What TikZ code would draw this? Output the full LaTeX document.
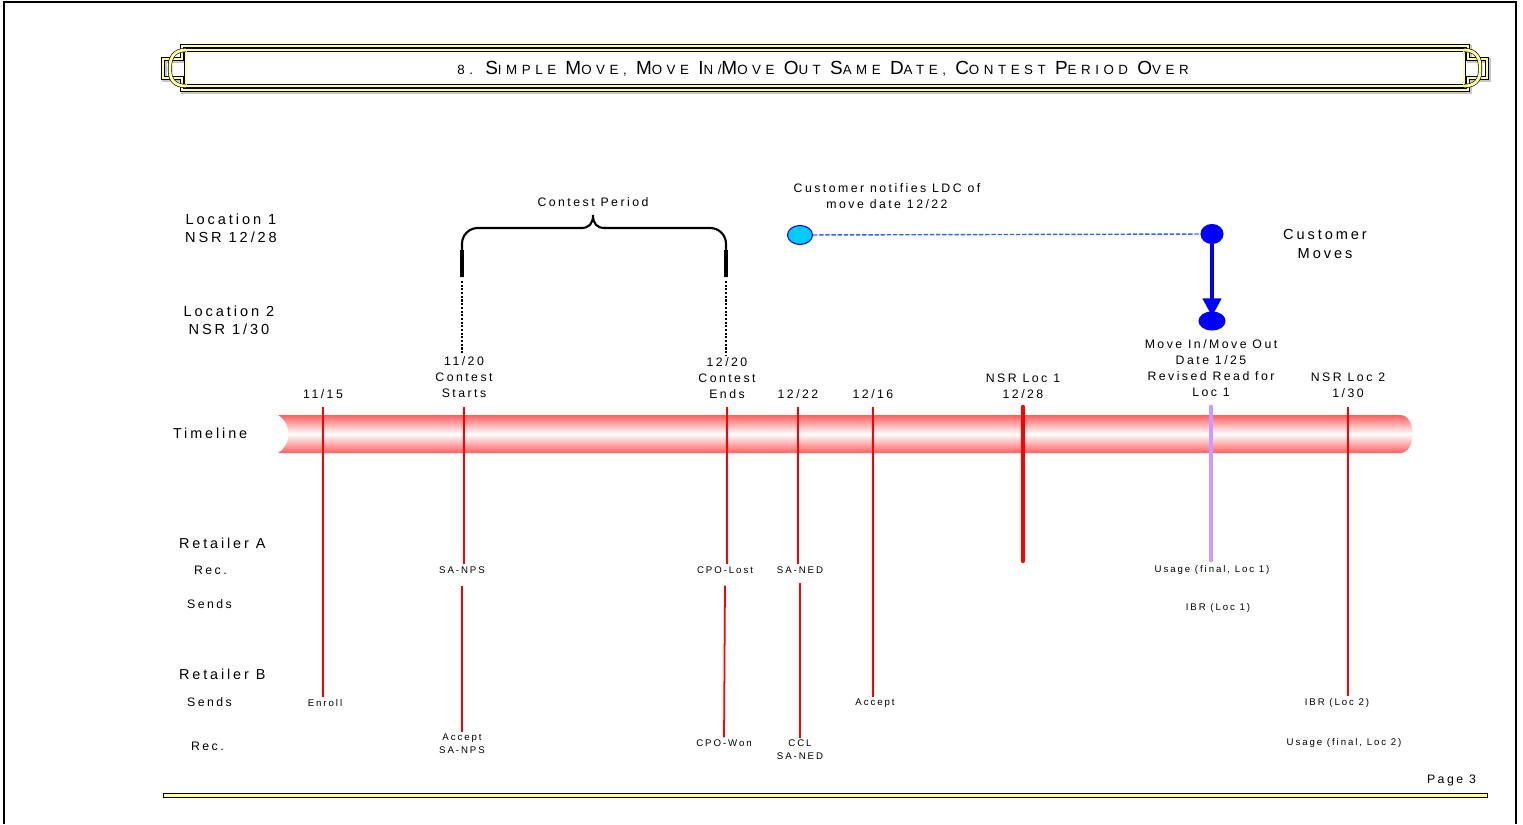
\documentclass[tikz,border=0pt]{standalone}
\usepackage{fontspec}
\setmainfont{Liberation Sans}[LetterSpace=20]
\usetikzlibrary{arrows.meta, shapes.geometric}

\definecolor{tubered}{RGB}{255,95,95}
\definecolor{lavender}{RGB}{204,153,255}
\definecolor{notifyblue}{RGB}{0,204,255}
\definecolor{dashblue}{RGB}{51,102,255}
\definecolor{bannerfill}{RGB}{255,255,160}
\newcommand{\smsc}[1]{{\fontsize{7.6}{9}\selectfont #1}}
\newcommand{\capsc}[2]{{\fontsize{10.8}{12}\selectfont #1}\smsc{#2}}

\begin{document}
\begin{tikzpicture}[
    x=0.02cm, y=-0.02cm,
    every node/.style={inner sep=1pt},
    titlelbl/.style={font=\addfontfeatures{LetterSpace=34}\fontsize{8.5}{10}\selectfont},
    biglbl/.style={font=\fontsize{8.3}{10.2}\selectfont, align=center},
    rowlbl/.style={anchor=west, font=\fontsize{8.2}{10}\selectfont},
    sublbl/.style={anchor=west, font=\fontsize{7}{9}\selectfont},
    datelbl/.style={font=\fontsize{7}{9.1}\selectfont, align=center},
    msglbl/.style={font=\fontsize{5.5}{7.4}\selectfont, align=center},
    banner/.style={draw=black, line width=0.35pt, double=bannerfill, double distance=1.6pt},
    evt/.style={red, line width=1pt},
    bigevt/.style={line width=2.4pt, line cap=round, shorten >=2pt},
    bracket/.style={line width=1.2pt, rounded corners=9pt},
    dot/.style={ellipse, draw=blue, line width=0.6pt, inner sep=0pt}
]
\useasboundingbox (0,0) rectangle (1523,824);

% page frame
\draw[line width=1.1pt] (4,824) -- (4,2) -- (1516,2) -- (1516,824);

% title banner
\draw[gray!45, line width=2.4pt, shift={(1.5,1.5)}] (182,46) -- (1468,46) -- (1468,59) -- (1487,59) -- (1487,78) -- (1468,78) -- (1468,90) -- (182,90) -- (182,78) -- (163,78) -- (163,59) -- (182,59) -- cycle;
\draw[banner] (182,46) -- (1468,46) -- (1468,59) -- (1487,59) -- (1487,78) -- (1468,78) -- (1468,90) -- (182,90) -- (182,78) -- (163,78) -- (163,59) -- (182,59) -- cycle;
\draw[banner] (186,50) rectangle (1464,86);
\draw[banner] (186,50) .. controls (174,50) and (170,58) .. (170,66) -- (170,71) .. controls (170,79) and (174,86) .. (186,86);
\draw[banner] (1464,50) .. controls (1476,50) and (1480,58) .. (1480,66) -- (1480,71) .. controls (1480,79) and (1476,86) .. (1464,86);
\fill[white] (187,52) rectangle (1463,84);
\node[titlelbl] (title) at (823,69) {\smsc{8.} \capsc{S}{IMPLE} \capsc{M}{OVE,} \capsc{M}{OVE} \capsc{I}{N/}\capsc{M}{OVE} \capsc{O}{UT} \capsc{S}{AME} \capsc{D}{ATE,} \capsc{C}{ONTEST} \capsc{P}{ERIOD} \capsc{O}{VER}};

% row labels
\node[biglbl] (loc1) at (231,228) {Location 1\\NSR 12/28};
\node[biglbl] (loc2) at (229,320) {Location 2\\NSR 1/30};
\node[rowlbl] (timeline) at (171,433) {Timeline};
\node[rowlbl] (retA) at (177,543) {Retailer A};
\node[sublbl] (recA) at (192,570) {Rec.};
\node[sublbl] (sendsA) at (185,604) {Sends};
\node[rowlbl] (retB) at (177,674) {Retailer B};
\node[sublbl] (sendsB) at (185,702) {Sends};
\node[sublbl] (recB) at (189,746) {Rec.};

% timeline tube
\shade[top color=tubered, bottom color=tubered, middle color=white]
  (278,415) -- (1400,415) .. controls (1417,415) and (1417,453) .. (1400,453) -- (278,453)
  .. controls (292,445) and (292,423) .. (278,415) -- cycle;

% contest period
\node[datelbl] (conperiod) at (593,202) {Contest Period};
\draw[bracket] (462,277) -- (462,228) -- (582,228);
\draw[line width=1.2pt] (581,228) .. controls (589,228) and (593,224) .. (593,215)
  .. controls (593,224) and (597,228) .. (605,228);
\draw[bracket] (604,228) -- (726,228) -- (726,277);
\draw[line width=1.9pt] (462,277) -- (462,250);
\draw[line width=1.9pt] (726,277) -- (726,250);

% dates on the timeline
\node[datelbl] (d1115) at (323,394) {11/15};
\node[datelbl] (d1120) at (464,377) {11/20\\Contest\\Starts};
\node[datelbl] (d1220) at (727,378) {12/20\\Contest\\Ends};
\node[datelbl] (d1222) at (798,394) {12/22};
\node[datelbl] (d1216) at (873,394) {12/16};
\node[datelbl] (nsrA) at (1023,386) {NSR Loc 1\\12/28};
\node[datelbl] (movedate) at (1211,368) {Move In/Move Out\\Date 1/25\\Revised Read for\\Loc 1};
\node[datelbl] (nsrB) at (1348,385) {NSR Loc 2\\1/30};

\coordinate (brl) at (462,281);
\coordinate (brr) at (726,281);
\draw[line width=0.8pt, dash pattern=on 1.2pt off 0.9pt] (brl) -- (brl |- d1120.north);
\draw[line width=0.8pt, dash pattern=on 1.2pt off 0.9pt] (brr) -- (brr |- d1220.north);

% customer move
\node[datelbl] (notify) at (887,196) {Customer notifies LDC of\\move date 12/22};
\node[biglbl, font=\fontsize{8.3}{10.8}\selectfont] (custmoves) at (1325,244) {Customer\\Moves};
\node[dot, fill=notifyblue, minimum width=0.5cm, minimum height=0.38cm] (notice) at (800,235) {};
\node[dot, fill=blue, minimum width=0.44cm, minimum height=0.38cm] (movetop) at (1212,234) {};
\node[dot, fill=blue, minimum width=0.52cm, minimum height=0.36cm] (movebot) at (1212,321) {};
\draw[dashblue, line width=0.8pt, dash pattern=on 2.5pt off 1pt] (notice) -- (movetop);
\draw[blue, line width=2.3pt, shorten >=-0.1cm, -{Triangle[length=0.36cm, width=0.36cm]}] (movetop) -- (movebot);

% transactions
\node[msglbl] (sanps) at (462,570) {SA-NPS};
\node[msglbl] (enroll) at (325,703) {Enroll};
\node[msglbl] (accept1) at (462,743.5) {Accept\\SA-NPS};
\node[msglbl] (cpolost) at (725,570) {CPO-Lost};
\node[msglbl] (sanedA) at (800,570) {SA-NED};
\node[msglbl] (cpowon) at (724,743) {CPO-Won};
\node[msglbl] (ccl) at (800,750) {CCL\\SA-NED};
\node[msglbl] (accept2) at (875,703) {Accept};
\node[msglbl] (usage1) at (1212,570) {Usage (final, Loc 1)};
\node[msglbl] (ibr1) at (1218,608) {IBR (Loc 1)};
\node[msglbl] (ibr2) at (1337,703) {IBR (Loc 2)};
\node[msglbl] (usage2) at (1344,743) {Usage (final, Loc 2)};

\coordinate (tltop) at (0,407);
\draw[evt] (d1115 |- tltop) -- (d1115 |- enroll.north);
\draw[evt] (d1120 |- tltop) -- (d1120 |- sanps.north);
\draw[evt] ([yshift=-0.2cm]sanps.south) -- (accept1.north);
\draw[evt] (d1220 |- tltop) -- (d1220 |- cpolost.north);
\draw[evt] ([yshift=-0.2cm]cpolost.south) -- (cpowon.north);
\draw[evt] (d1222 |- tltop) -- (d1222 |- sanedA.north);
\draw[evt] ([yshift=-0.14cm]sanedA.south) -- (ccl.north);
\draw[evt] (d1216 |- tltop) -- (d1216 |- accept2.north);
\draw[evt] (nsrB |- tltop) -- (nsrB |- ibr2.north);
\draw[bigevt, red] (nsrA |- tltop) -- (nsrA |- sanedA.north);
\draw[bigevt, lavender, line width=2.8pt] (movedate |- tltop) -- (movedate |- usage1.north);

% footer
\node[datelbl, anchor=east] (page) at (1478,780) {Page 3};
\draw[fill=bannerfill, line width=0.4pt] (163,793) rectangle (1487,797);
\end{tikzpicture}
\end{document}
